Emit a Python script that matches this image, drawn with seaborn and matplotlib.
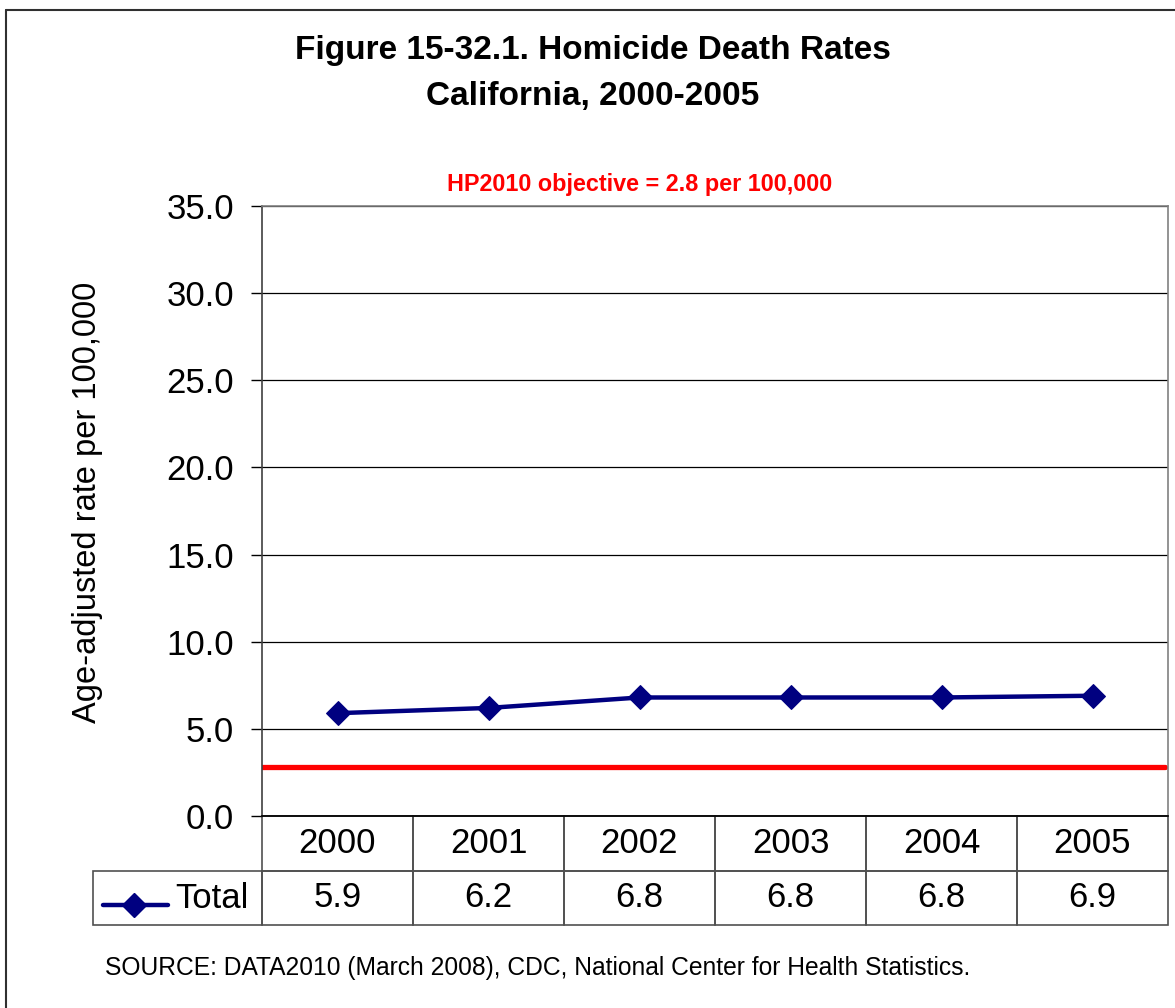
import numpy as np
import pandas as pd
import matplotlib
matplotlib.use("Agg")
import matplotlib.pyplot as plt
from matplotlib.lines import Line2D
import seaborn as sns

# ---- data ----
years = ["2000", "2001", "2002", "2003", "2004", "2005"]
total_rates = [5.9, 6.2, 6.8, 6.8, 6.8, 6.9]
series_name = "Total"
objective_value = 2.8
objective_label = "HP2010 objective = 2.8 per 100,000"
title_lines = ["Figure 15-32.1. Homicide Death Rates", "California, 2000-2005"]
y_label = "Age-adjusted rate per 100,000"
source_text = "SOURCE: DATA2010 (March 2008), CDC, National Center for Health Statistics."
y_ticks = [0, 5, 10, 15, 20, 25, 30, 35]

sns.set_style("white")
plt.rcParams['font.family'] = ['Liberation Sans', 'DejaVu Sans']
plt.rcParams['text.color'] = 'black'
plt.rcParams['axes.labelcolor'] = 'black'
plt.rcParams['xtick.color'] = 'black'
plt.rcParams['ytick.color'] = 'black'

W, H = 1175, 1008
fig = plt.figure(figsize=(W / 100, H / 100), dpi=100)

# axes placement (pixel based)
ax_l, ax_r, ax_t, ax_b = 262, 1168, 206, 816
ax = fig.add_axes([ax_l / W, 1 - ax_b / H, (ax_r - ax_l) / W, (ax_b - ax_t) / H])

df = pd.DataFrame({"year": years, "rate": total_rates})
navy = "#000080"
sns.lineplot(data=df, x="year", y="rate", ax=ax, color=navy, marker="D",
             markersize=12, linewidth=3.2, markeredgecolor=navy, sort=False)

ax.axhline(objective_value, color="#FF0000", linewidth=3.8, xmax=0.997, zorder=1)

ax.set_xlim(-0.5, len(years) - 0.5)
ax.set_ylim(0, 35)
ax.set_yticks(y_ticks)
ax.set_yticklabels([f"{v:.1f}" for v in y_ticks])
ax.set_xticks([])
ax.set_xlabel("")
ax.set_ylabel("")
ax.tick_params(axis="y", length=8, width=1, pad=12, labelsize=25,
               color="black", labelcolor="black", left=True)
ax.yaxis.grid(True, color="black", linewidth=0.9)
ax.set_axisbelow(True)
for side in ["top", "right"]:
    ax.spines[side].set_visible(True)
    ax.spines[side].set_color("#808080")
    ax.spines[side].set_linewidth(1.2)
ax.spines["left"].set_color("#404040")
ax.spines["bottom"].set_color("black")
ax.spines["left"].set_linewidth(1.2)
ax.spines["bottom"].set_linewidth(1.2)

# ---- data table ----
axw = ax_r - ax_l
axh = ax_b - ax_t
tbl_left = 93
tbl_bottom = 925
bbox = [(tbl_left - ax_l) / axw, -(tbl_bottom - ax_b) / axh,
        (ax_r - tbl_left) / axw, (tbl_bottom - ax_b) / axh]
col_w = [169] + [151] * len(years)
cell_text = [[""] + [f"{v:.1f}" for v in total_rates]]
tbl = ax.table(cellText=cell_text, colLabels=[""] + years, colWidths=col_w,
               cellLoc="center", bbox=bbox)
tbl.auto_set_font_size(False)
tbl.set_fontsize(25)
for (r, c), cell in tbl.get_celld().items():
    cell.set_edgecolor("#505050")
    cell.set_linewidth(1.2)
    cell.set_facecolor("none")
    cell.get_text().set_color("black")
tbl[0, 0].set_edgecolor("none")

# legend key inside the row label cell
row_y = -(898 - ax_b) / axh
key_y = -(905 - ax_b) / axh
ax.add_line(Line2D([(103 - ax_l) / axw, (168 - ax_l) / axw], [key_y, key_y],
                   transform=ax.transAxes, color=navy, linewidth=3.2, clip_on=False))
ax.add_line(Line2D([(134 - ax_l) / axw], [key_y], transform=ax.transAxes, color=navy,
                   marker="D", markersize=12, markeredgecolor=navy, clip_on=False))
ax.text((212 - ax_l) / axw, row_y, series_name, transform=ax.transAxes,
        ha="center", va="center", fontsize=25, color="black")

# ---- texts ----
fig.text(593 / W, 1 - 50 / H, title_lines[0], ha="center", va="center",
         fontsize=24, fontweight="bold", color="black")
fig.text(593 / W, 1 - 96 / H, title_lines[1], ha="center", va="center",
         fontsize=24, fontweight="bold", color="black")
fig.text(640 / W, 1 - 184 / H, objective_label, ha="center", va="center",
         fontsize=16.8, fontweight="bold", color="#FF0000")
fig.text(88 / W, 1 - 502 / H, y_label, rotation=90, ha="center", va="center",
         fontsize=23.5, color="black")
fig.text(105 / W, 1 - 968 / H, source_text, ha="left", va="center",
         fontsize=17.7, color="black")

# outer frame (left and top edges visible)
fig.add_artist(Line2D([6 / W, 6 / W], [0, 1 - 10 / H], transform=fig.transFigure,
                      color="#303030", linewidth=1.5))
fig.add_artist(Line2D([6 / W, 1], [1 - 10 / H, 1 - 10 / H], transform=fig.transFigure,
                      color="#303030", linewidth=1.5))

fig.savefig("out.png", dpi=100)
